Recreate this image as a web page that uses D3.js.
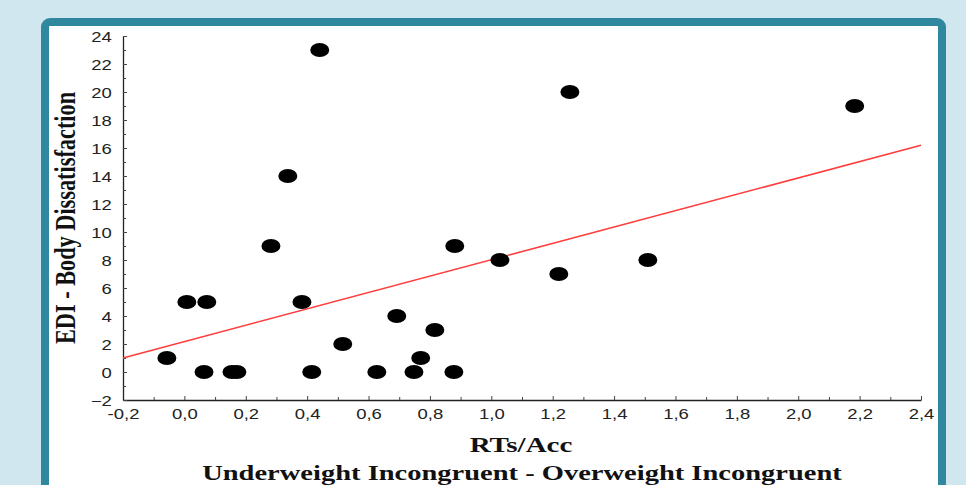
<!DOCTYPE html>
<html>
<head>
<meta charset="utf-8">
<script src="https://cdn.jsdelivr.net/npm/d3@7"></script>
<style>
  body { margin: 0; background: #d0e7ef; }
  svg { display: block; }
</style>
</head>
<body>
<svg id="chart"></svg>
<script>
// scatter values
var rtsAcc = [-0.057, 0.008, 0.073, 0.064, 0.155, 0.171, 0.282, 0.337, 0.383, 0.415, 0.441, 0.516,
  0.627, 0.692, 0.748, 0.770, 0.816, 0.881, 0.878, 1.028, 1.220, 1.256, 1.510, 2.184];
var ediBody = [1, 5, 5, 0, 0, 0, 9, 14, 5, 0, 23, 2,
  0, 4, 0, 1, 3, 9, 0, 8, 7, 20, 8, 19];

// regression line end points
var fitX = [-0.2, 2.4];
var fitY = [1.0, 16.2];

var xTicks = [-0.2, 0, 0.2, 0.4, 0.6, 0.8, 1.0, 1.2, 1.4, 1.6, 1.8, 2.0, 2.2, 2.4];
var xMinor = [-0.1, 0.1, 0.3, 0.5, 0.7, 0.9, 1.1, 1.3, 1.5, 1.7, 1.9, 2.1, 2.3];
var yTicks = [-2, 0, 2, 4, 6, 8, 10, 12, 14, 16, 18, 20, 22, 24];
var yMinor = [-1, 1, 3, 5, 7, 9, 11, 13, 15, 17, 19, 21, 23];

var yTitle = "EDI - Body Dissatisfaction";
var xTitle = "RTs/Acc";
var xSubTitle = "Underweight Incongruent - Overweight Incongruent";

var width = 966,
  height = 485,
  stretch = 1.32; // the original picture is widened

var svg = d3.select("#chart")
  .attr("width", width)
  .attr("height", height);

// panel frame
svg.append("rect")
  .attr("x", 45).attr("y", 22)
  .attr("width", 897).attr("height", 520)
  .attr("rx", 5)
  .attr("fill", "#fff")
  .attr("stroke", "#2f889e")
  .attr("stroke-width", 8);

var x = d3.scaleLinear().domain([-0.2, 2.4]).range([123, 921]);
var y = d3.scaleLinear().domain([-2, 24]).range([400, 36]);

var comma = d3.formatLocale({ decimal: ",", thousands: ".", grouping: [3], currency: ["", ""], minus: "-" });
var fmtX = comma.format(".1f");

var g = svg.append("g");

var xAxis = g.append("g")
  .attr("transform", "translate(0,400)")
  .call(d3.axisBottom(x).tickValues(xTicks).tickFormat(fmtX).tickSizeInner(-4).tickSizeOuter(0).tickPadding(9));
g.append("g")
  .attr("transform", "translate(0,400)")
  .call(d3.axisBottom(x).tickValues(xMinor).tickFormat("").tickSizeInner(-3).tickSizeOuter(0))
  .select(".domain").remove();

var yAxis = g.append("g")
  .attr("transform", "translate(123,0)")
  .call(d3.axisLeft(y).tickValues(yTicks).tickFormat(d3.format("d")).tickSizeInner(-4).tickSizeOuter(0).tickPadding(8.5));
g.append("g")
  .attr("transform", "translate(123,0)")
  .call(d3.axisLeft(y).tickValues(yMinor).tickFormat("").tickSizeInner(-3).tickSizeOuter(0))
  .select(".domain").remove();

g.selectAll(".domain").attr("stroke", "#222").attr("stroke-width", 1.3);
g.selectAll(".tick line").attr("stroke", "#444");

[xAxis, yAxis].forEach(function (ax) {
  ax.selectAll("text")
    .attr("font-family", "'Liberation Sans', Arial, sans-serif")
    .attr("font-size", 14)
    .attr("fill", "#222");
});
// widen tick labels like the source
xAxis.selectAll(".tick text")
  .attr("transform", "scale(" + stretch + ",1)");
yAxis.selectAll(".tick text")
  .attr("transform", "scale(" + stretch + ",1)")
  .attr("dy", "0.36em");

// regression line
svg.append("line")
  .attr("x1", x(fitX[0])).attr("y1", y(fitY[0]))
  .attr("x2", x(fitX[1])).attr("y2", y(fitY[1]))
  .attr("stroke", "#ff3b3b")
  .attr("stroke-width", 1.5);

// points
svg.append("g")
  .selectAll("ellipse")
  .data(d3.range(rtsAcc.length))
  .enter().append("ellipse")
  .attr("cx", function (i) { return x(rtsAcc[i]); })
  .attr("cy", function (i) { return y(ediBody[i]); })
  .attr("rx", 9.5)
  .attr("ry", 7)
  .attr("fill", "#000");

// titles
function title(txt, tx, ty, size, rot) {
  var t = svg.append("text")
    .attr("text-anchor", "middle")
    .attr("font-family", "'Liberation Serif', 'Times New Roman', serif")
    .attr("font-weight", "bold")
    .attr("font-size", size)
    .attr("fill", "#111")
    .text(txt);
  t.attr("transform", "translate(" + tx + "," + ty + ") scale(" + stretch + ",1)" + (rot ? " rotate(-90)" : ""));
}
title(yTitle, 75, 218, 22.3, true);
title(xTitle, 521, 452, 22, false);
title(xSubTitle, 522, 480, 21.6, false);
</script>
</body>
</html>
